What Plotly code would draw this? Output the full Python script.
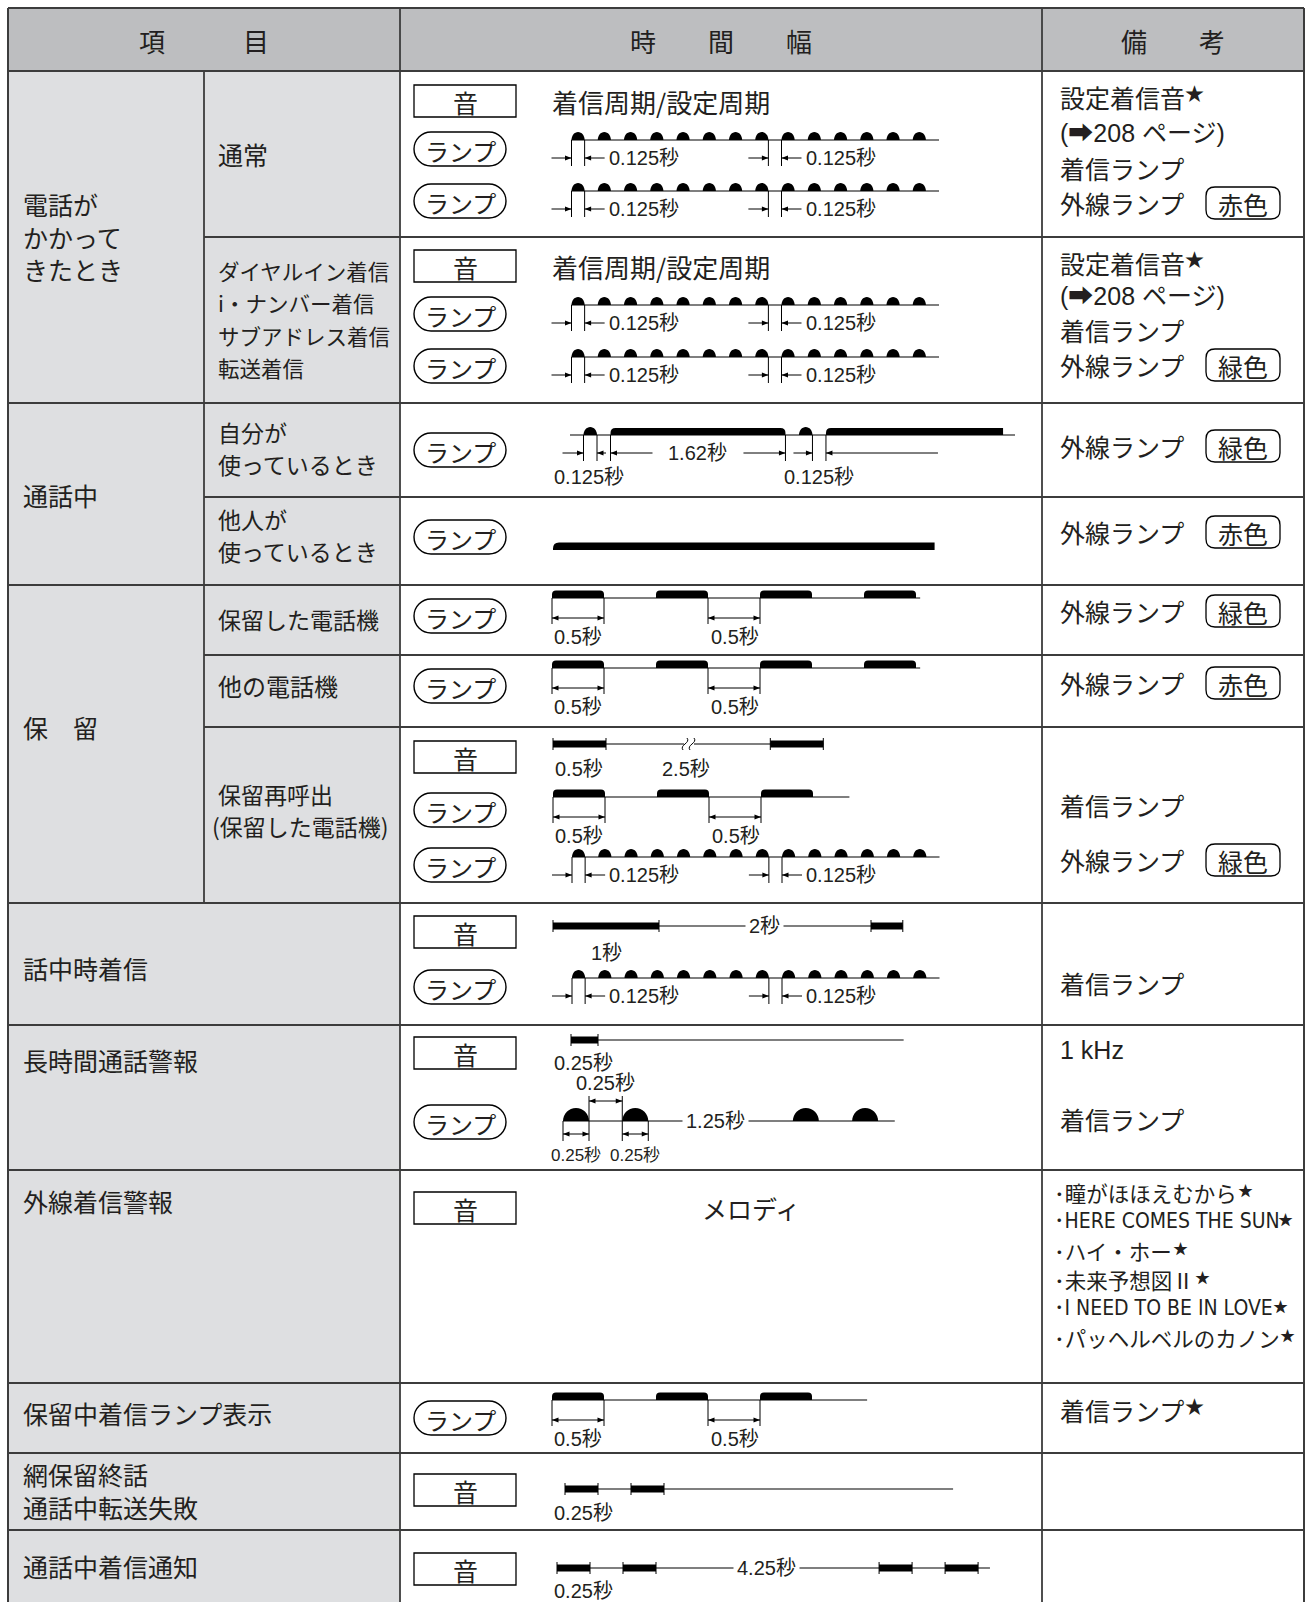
import plotly.graph_objects as go

W, H = 1308, 1602
JP = "Noto Sans CJK JP"
LAT = "Liberation Sans, Noto Sans CJK JP"
NARROW = "Liberation Sans Narrow, DejaVu Sans Condensed, Noto Sans CJK JP"
INK = "#231f20"
GRID = "#3c3c3c"
HEAD_BG = "#bdbec0"
ITEM_BG = "#dedfe1"

# ---------------- data ----------------
header_labels = ["項　　　目", "時　　間　　幅", "備　　考"]

group_labels = [["電話が", "かかって", "きたとき"], ["通話中"], ["保　留"], ["話中時着信"],
                ["長時間通話警報"], ["外線着信警報"], ["保留中着信ランプ表示"],
                ["網保留終話", "通話中転送失敗"], ["通話中着信通知"]]
sub_labels = [["通常"], ["ダイヤルイン着信", "i・ナンバー着信", "サブアドレス着信", "転送着信"],
              ["自分が", "使っているとき"], ["他人が", "使っているとき"],
              ["保留した電話機"], ["他の電話機"], ["保留再呼出", "(保留した電話機)"]]

ring_text = "着信周期/設定周期"
melody_text = "メロディ"
melody_list = ["瞳がほほえむから", "HERE COMES THE SUN", "ハイ・ホー",
               "未来予想図Ⅱ", "I NEED TO BE IN LOVE", "パッヘルベルのカノン"]
melody_latin = [False, True, False, False, True, False]

# timing data (seconds)
BLINK_STARTS = [0.0, 0.25, 0.5, 0.75, 1.0, 1.25, 1.5, 1.75, 2.0, 2.25, 2.5, 2.75, 3.0, 3.25]
BLINK_ON = 0.125
BLINK_END = 3.5
HOLD_STARTS_4 = [0.0, 1.0, 2.0, 3.0]
HOLD_STARTS_3 = [0.0, 1.0, 2.0]
HOLD_ON = 0.5
BUSY_OWN_STATES = [0, 1, 0, 1, 0, 1, 0, 1]
BUSY_OWN_DUR = [0.125, 0.125, 0.125, 1.62, 0.125, 0.125, 0.125, 1.64]
BUSY_OTHER_ON = 3.6
RECALL_TONE_DUR = [0.5, 1.55, 0.5]          # on / off (2.5 s, drawn with break) / on
CALLBUSY_TONE_DUR = [1.0, 2.0, 0.3]
ALARM_TONE_DUR = [0.25, 2.83]
ALARM_LAMP_DUR = [0.25, 0.32, 0.25, 1.39, 0.25, 0.32, 0.25, 0.16]
NETHOLD_TONE_DUR = [0.25, 0.25, 0.25, 2.19]
WAIT_TONE_DUR = [0.25, 0.25, 0.25, 1.69, 0.25, 0.25, 0.25, 0.09]

# ---------------- helpers ----------------
shapes, annotations = [], []


def line(x0, y0, x1, y1, w=1.2, color="#000"):
    shapes.append(dict(type="line", xref="x", yref="y", x0=x0, y0=y0, x1=x1, y1=y1,
                       line=dict(color=color, width=w), layer="above"))


def rect(x0, y0, x1, y1, fill, lw=0, lc=None, layer="above"):
    shapes.append(dict(type="rect", xref="x", yref="y", x0=x0, y0=y0, x1=x1, y1=y1,
                       fillcolor=fill, line=dict(width=lw, color=lc or fill), layer=layer))


def path(d, fill="#000", lw=0, lc="#000"):
    shapes.append(dict(type="path", xref="x", yref="y", path=d, fillcolor=fill,
                       line=dict(width=lw, color=lc), layer="above"))


def text(x, y, s, size=25, anchor="left", family=JP, color=INK, bg=None):
    a = dict(x=x, y=y, xref="x", yref="y", text=s, showarrow=False, xanchor=anchor,
             yanchor="middle", align="left", font=dict(size=size, family=family, color=color))
    if bg:
        a.update(bgcolor=bg, borderpad=3)
    annotations.append(a)


def star(x, y, size):
    text(x, y, "★", size, "left", JP)


def head(xh, y, d):
    path(f"M{xh},{y} L{xh - d * 6.5},{y - 2.6} L{xh - d * 6.5},{y + 2.6} Z")


def arrow(xh, y, xt, both=False):
    line(xt, y, xh, y, 1)
    d = 1 if xh > xt else -1
    head(xh, y, d)
    if both:
        head(xt, y, -d)


K = 0.5523


def dome(xa, xb, y0, h):
    xm = (xa + xb) / 2
    w = (xb - xa) / 2
    return (f"M{xa},{y0} C{xa},{y0 - K * h} {xm - K * w},{y0 - h} {xm},{y0 - h} "
            f"C{xm + K * w},{y0 - h} {xb},{y0 - K * h} {xb},{y0} Z")


def rbar(xa, xb, y0, h, rl=4, rr=4):
    return (f"M{xa},{y0} L{xa},{y0 - h + rl} Q{xa},{y0 - h} {xa + rl},{y0 - h} "
            f"L{xb - rr},{y0 - h} Q{xb},{y0 - h} {xb},{y0 - h + rr} L{xb},{y0} Z")


def rrect(xa, ya, xb, yb, r):
    return (f"M{xa + r},{ya} L{xb - r},{ya} Q{xb},{ya} {xb},{ya + r} L{xb},{yb - r} "
            f"Q{xb},{yb} {xb - r},{yb} L{xa + r},{yb} Q{xa},{yb} {xa},{yb - r} "
            f"L{xa},{ya + r} Q{xa},{ya} {xa + r},{ya} Z")


def pill(cx, cy, w=92, h=34):
    r = h / 2
    xa, xb = cx - w / 2, cx + w / 2
    d = (f"M{xa + r},{cy - r} L{xb - r},{cy - r} C{xb - r + K * r},{cy - r} {xb},{cy - K * r} {xb},{cy} "
         f"C{xb},{cy + K * r} {xb - r + K * r},{cy + r} {xb - r},{cy + r} L{xa + r},{cy + r} "
         f"C{xa + r - K * r},{cy + r} {xa},{cy + K * r} {xa},{cy} C{xa},{cy - K * r} {xa + r - K * r},{cy - r} {xa + r},{cy - r} Z")
    path(d, fill="#fff", lw=1.4, lc="#000")
    text(cx, cy + 1, "ランプ", 24, "center")


def sound_box(cy):
    rect(414, cy - 16, 516, cy + 16, "#fff", 1.3, "#000")
    text(465, cy + 1, "音", 25, "center")


def badge(cy, s):
    path(rrect(1206, cy - 16, 1280, cy + 16, 9), fill="#fff", lw=1.3, lc="#000")
    text(1243, cy + 1, s, 25, "center")


def cum(x0, scale, durs):
    xs = [x0]
    for d in durs:
        xs.append(xs[-1] + d * scale)
    return xs


def blink(x0, yb, scale=105):
    line(x0, yb, x0 + BLINK_END * scale, yb)
    for s in BLINK_STARTS:
        xa = x0 + s * scale
        path(dome(xa, xa + BLINK_ON * scale, yb, 8))
    t1a, t1b = x0, x0 + BLINK_ON * scale
    t2a = x0 + (BLINK_STARTS[7] + BLINK_ON) * scale
    t2b = x0 + BLINK_STARTS[8] * scale
    for t in (t1a, t1b, t2a, t2b):
        line(t, yb, t, yb + 26, 1)
    ya = yb + 18
    arrow(t1a, ya, t1a - 20)
    arrow(t1b, ya, t1b + 20)
    text(t1b + 22, ya, "0.125秒", 20, family=LAT)
    arrow(t2a, ya, t2a - 20)
    arrow(t2b, ya, t2b + 20)
    text(t2b + 22, ya, "0.125秒", 20, family=LAT)


def hold(x0, yb, starts, end, scale=104):
    line(x0, yb, x0 + end * scale, yb)
    for s in starts:
        xa = x0 + s * scale
        path(rbar(xa, xa + HOLD_ON * scale, yb, 7.5, 4, 4))
    a0, a1 = x0, x0 + HOLD_ON * scale
    b0, b1 = x0 + (starts[1] + HOLD_ON) * scale, x0 + starts[2] * scale
    for t in (a0, a1, b0, b1):
        line(t, yb, t, yb + 26, 1)
    arrow(a1, yb + 20, a0, both=True)
    arrow(b1, yb + 20, b0, both=True)
    text(a0, yb + 39, "0.5秒", 20, family=LAT)
    text(b0 + 1, yb + 39, "0.5秒", 20, family=LAT)


def tone(x0, y, scale, durs, ticks=True, h=7):
    xs = cum(x0, scale, durs)
    line(xs[0], y, xs[-1], y)
    for i in range(0, len(durs), 2):
        rect(xs[i], y - h / 2, xs[i + 1], y + h / 2, "#000")
        if ticks:
            line(xs[i], y - 6, xs[i], y + 6, 1)
            line(xs[i + 1], y - 6, xs[i + 1], y + 6, 1)
    return xs


# ---------------- table frame ----------------
L, C1, C2, C3, R = 8, 204, 400, 1042, 1304
T, HB = 8, 71
rect(L, T, R, HB, HEAD_BG, layer="below")
rect(L, HB, C2, H, ITEM_BG, layer="below")
rect(C2, HB, R, H, "#fff", layer="below")

full_rows = [HB, 403, 585, 903, 1025, 1170, 1383, 1453, 1530]
sub_rows = [237, 497, 655, 727]
line(L, T, R, T, 2, GRID)
for y in full_rows:
    line(L, y, R, y, 1.8, GRID)
for y in sub_rows:
    line(C1, y, R, y, 1.8, GRID)
line(L, T, L, H, 2, GRID)
line(R, T, R, H, 2, GRID)
line(C2, T, C2, H, 1.8, GRID)
line(C3, T, C3, H, 1.8, GRID)
line(C1, HB, C1, 903, 1.8, GRID)

# header
text((L + C2) / 2, 40, header_labels[0], 26, "center")
text((C2 + C3) / 2, 40, header_labels[1], 26, "center")
text((C3 + R) / 2, 40, header_labels[2], 26, "center")

# item column 1 (multi-line blocks centred on given y)
g_y = [236, 495, 727, 968, 1060, 1201, 1413, 1490, 1566]
for labs, y in zip(group_labels, g_y):
    text(21, y, "<br>".join(labs), 25)

# item column 2
s_y = [[154], [270, 302, 335, 367], [432, 464], [519, 551], [619], [685], [794, 826]]
s_size = [25, 21.5, 23, 23, 23, 24, 23]
for labs, ys, sz in zip(sub_labels, s_y, s_size):
    for s, y in zip(labs, ys):
        text(216 if not s.startswith("(") else 210, y, s, sz)

# ---------------- timing column ----------------
# 通常
sound_box(101)
text(550, 101, ring_text, 26)
pill(460, 149); blink(571.5, 140)
pill(460, 201); blink(571.5, 191)
# ダイヤルイン
sound_box(266)
text(550, 266, ring_text, 26)
pill(460, 314); blink(571.5, 305)
pill(460, 366); blink(571.5, 357)

# 自分が使っているとき
pill(460, 450)
yb = 435
xs = cum(570, 108, BUSY_OWN_DUR)
line(xs[0], yb, 1015, yb)
for i, st in enumerate(BUSY_OWN_STATES):
    if st:
        if BUSY_OWN_DUR[i] < 0.2:
            path(dome(xs[i], xs[i + 1], yb, 8))
        else:
            path(rbar(xs[i], xs[i + 1], yb, 7, 5, 5 if i < 5 else 0))
for t in (xs[1], xs[2], xs[3], xs[4], xs[6], xs[7]):
    line(t, yb, t, yb + 26, 1)
ya = yb + 18
arrow(xs[1], ya, xs[1] - 21)
arrow(xs[2], ya, xs[2] + 9)
arrow(xs[3], ya, xs[3] + 42)
text((xs[3] + xs[4]) / 2, ya, "1.62秒", 20, "center", LAT)
arrow(xs[4], ya, xs[4] - 42)
arrow(xs[6], ya, xs[6] - 19)
arrow(xs[7], ya, xs[7] + 112)
text(552, 477, "0.125秒", 20, family=LAT)
text(782, 477, "0.125秒", 20, family=LAT)

# 他人が使っているとき
pill(460, 537)
path(rbar(553, 553 + BUSY_OTHER_ON * 106, 550, 7.5, 6, 0))

# 保留した電話機 / 他の電話機
pill(460, 616); hold(552, 598, HOLD_STARTS_4, 3.54)
pill(460, 686); hold(552, 668, HOLD_STARTS_4, 3.54)

# 保留再呼出
sound_box(757)
xs = tone(553, 744, 106, RECALL_TONE_DUR)
rect(684, 738, 694, 750, "#fff")
for xc in (685, 692):
    path(f"M{xc - 2},{744 + 6} C{xc - 6},{744 + 1} {xc + 6},{744 - 1} {xc + 2},{744 - 6}",
         fill="rgba(0,0,0,0)", lw=1, lc="#000")
text(553, 769, "0.5秒", 20, family=LAT)
text(686, 769, "2.5秒", 20, "center", LAT)
pill(460, 810); hold(553, 797, HOLD_STARTS_3, 2.85)
pill(460, 865); blink(572, 857)

# 話中時着信
sound_box(932)
xs = tone(553, 926, 106, CALLBUSY_TONE_DUR)
text(764, 926, "2秒", 20, "center", LAT, bg="#fff")
text(606, 953, "1秒", 20, "center", LAT)
pill(460, 987); blink(572, 978)

# 長時間通話警報
sound_box(1053)
tone(571, 1040, 108, ALARM_TONE_DUR)
text(552, 1063, "0.25秒", 20, family=LAT)
pill(460, 1122)
yb = 1121
xs = cum(563, 104, ALARM_LAMP_DUR)
line(xs[0], yb, xs[-1], yb)
for i in range(0, len(ALARM_LAMP_DUR), 2):
    path(dome(xs[i], xs[i + 1], yb, 13))
text((xs[3] + xs[4]) / 2 - 5, yb, "1.25秒", 20, "center", LAT, bg="#fff")
for t in (xs[1], xs[2]):
    line(t, yb - 25, t, yb, 1)
arrow(xs[2], 1101, xs[1], both=True)
text((xs[1] + xs[2]) / 2, 1083, "0.25秒", 20, "center", LAT)
for t in (xs[0], xs[1], xs[2], xs[3]):
    line(t, yb, t, 1141, 1)
arrow(xs[1], 1134, xs[0], both=True)
arrow(xs[3], 1134, xs[2], both=True)
text((xs[0] + xs[1]) / 2, 1155, "0.25秒", 17, "center", LAT)
text((xs[2] + xs[3]) / 2, 1155, "0.25秒", 17, "center", LAT)

# 外線着信警報
sound_box(1208)
text(751, 1208, melody_text, 25, "center")

# 保留中着信ランプ表示
pill(460, 1418); hold(552, 1400, HOLD_STARTS_3, 3.03)

# 網保留終話
sound_box(1490)
tone(565, 1489, 132, NETHOLD_TONE_DUR)
text(552, 1513, "0.25秒", 20, family=LAT)

# 通話中着信通知
sound_box(1569)
tone(557, 1568, 132, WAIT_TONE_DUR)
text(766, 1568, "4.25秒", 20, "center", LAT, bg="#fff")
text(552, 1591, "0.25秒", 20, family=LAT)

# ---------------- notes column ----------------
NX = 1058
for ys, col in (([97, 133, 168, 203], "赤色"), ([263, 296, 330, 365], "緑色")):
    text(NX, ys[0], "設定着信音", 25)
    star(NX + 125, ys[0] - 5, 19)
    text(NX, ys[1], "(➡208 ページ)", 25, family=LAT)
    text(NX, ys[2], "着信ランプ", 25)
    text(NX, ys[3], "外線ランプ", 25)
    badge(ys[3], col)
for y, col in ((446, "緑色"), (532, "赤色"), (611, "緑色"), (683, "赤色"), (860, "緑色")):
    text(NX, y, "外線ランプ", 25)
    badge(y, col)
text(NX, 805, "着信ランプ", 25)
text(NX, 983, "着信ランプ", 25)
text(NX, 1050, "1 kHz", 25, family=LAT)
text(NX, 1119, "着信ランプ", 25)
melody_star_x = [1236, 1276, 1171, 1193, 1271, 1278]
for i, (s, lat) in enumerate(zip(melody_list, melody_latin)):
    y = 1192 + 29 * i
    if lat:
        text(1052, y, "･" + s, 21, family=NARROW)
    else:
        text(1052, y, "･" + s, 21.5, family=JP)
    star(melody_star_x[i], y - 3, 15)
text(NX, 1410, "着信ランプ", 25)
star(NX + 125, 1405, 19)

# ---------------- figure ----------------
fig = go.Figure()
fig.add_trace(go.Scatter(x=[0, W], y=[0, H], mode="markers", marker=dict(opacity=0),
                         hoverinfo="skip", showlegend=False))
fig.update_layout(
    width=W, height=H, margin=dict(l=0, r=0, t=0, b=0), autosize=False,
    paper_bgcolor="#fff", plot_bgcolor="#fff", showlegend=False,
    xaxis=dict(range=[0, W], visible=False, fixedrange=True),
    yaxis=dict(range=[H, 0], visible=False, fixedrange=True),
    shapes=shapes, annotations=annotations,
)
fig.write_html("out.html", config={"displayModeBar": False},
               post_script="document.body.style.margin='0';document.body.style.overflow='hidden';")
